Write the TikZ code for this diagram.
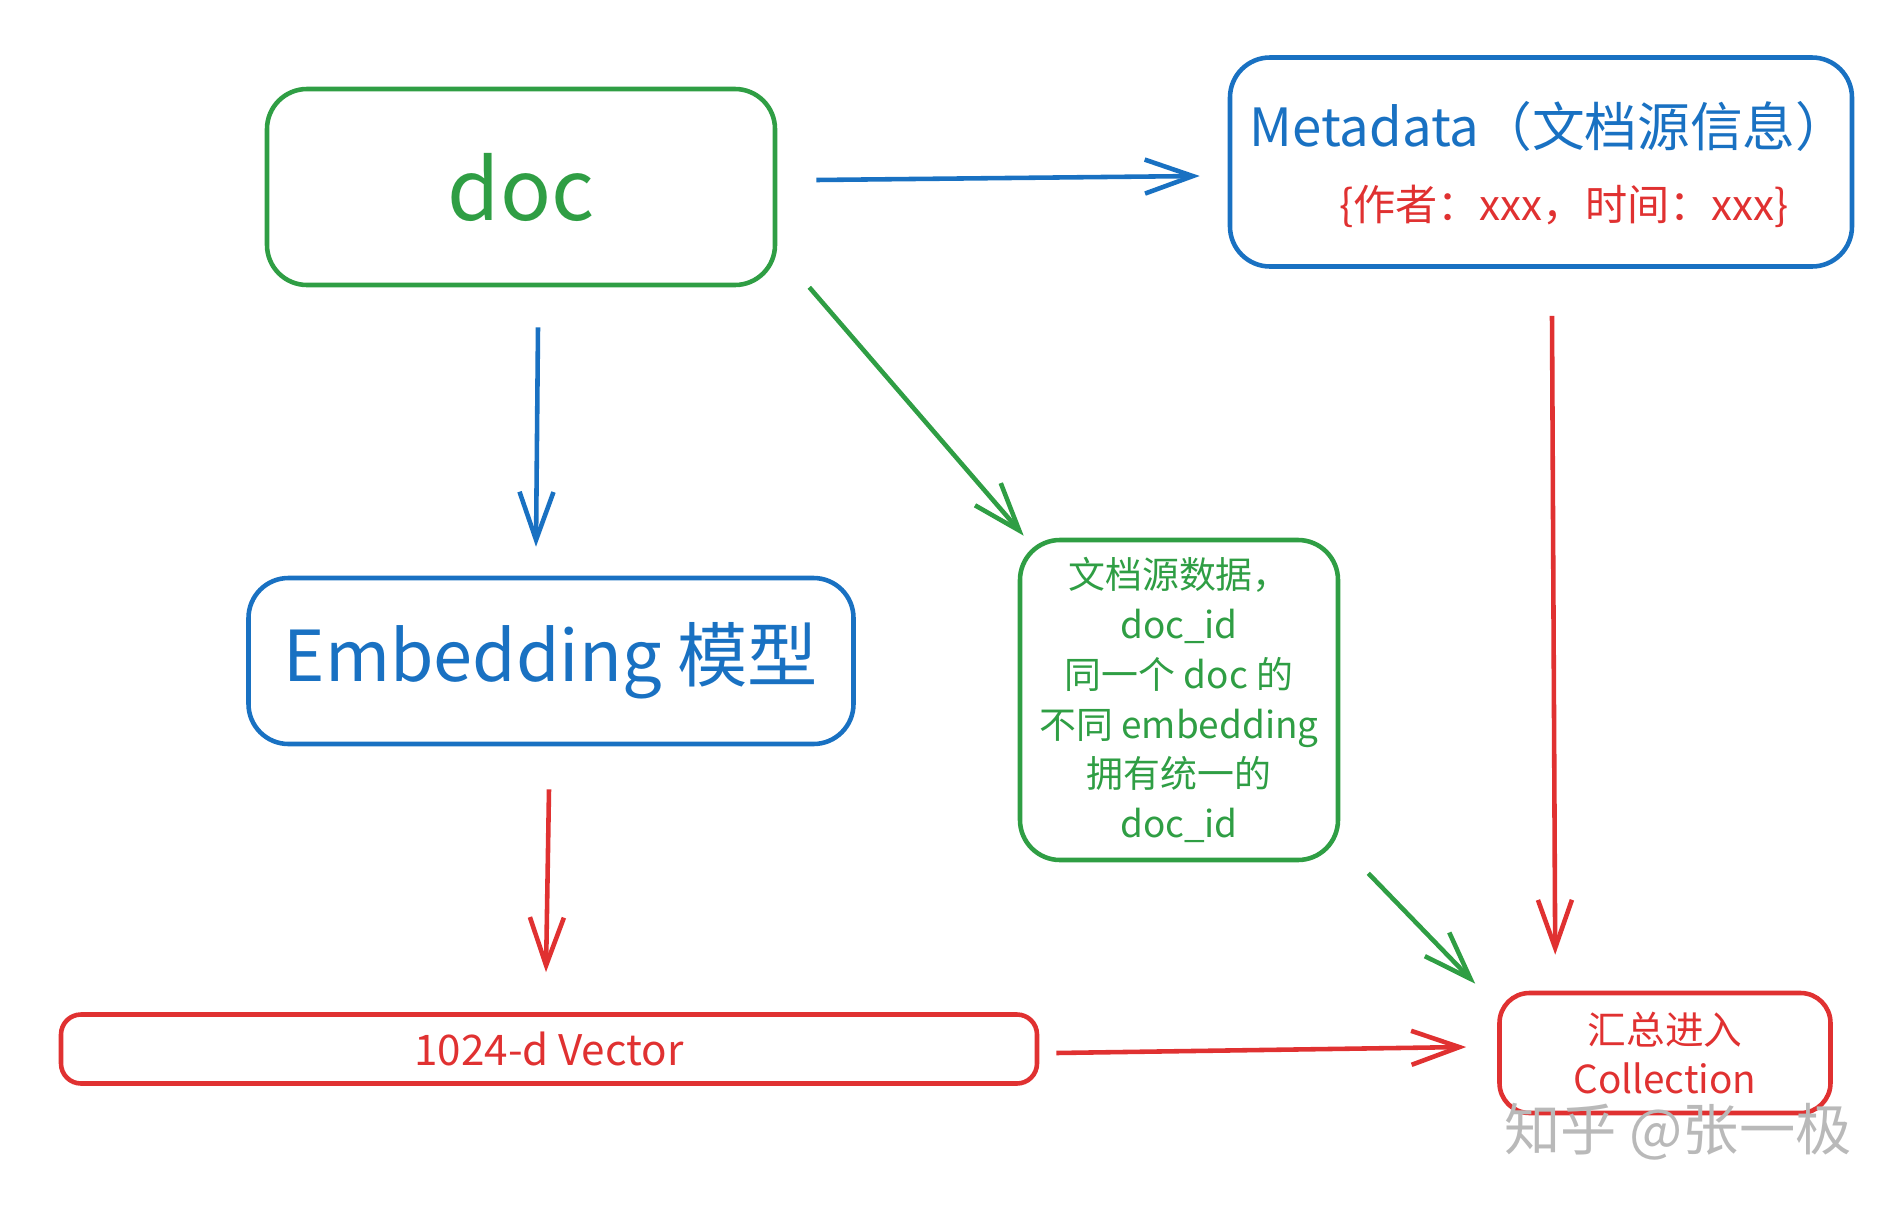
\documentclass[tikz,border=0pt]{standalone}
\usepackage{fontspec}
\setmainfont{Noto Sans CJK SC}
\usetikzlibrary{arrows.meta,positioning}
\definecolor{sketchblue}{RGB}{25,113,194}
\definecolor{sketchgreen}{RGB}{47,158,68}
\definecolor{sketchred}{RGB}{224,49,49}

\begin{document}
\begin{tikzpicture}[x=1cm,y=1cm]
\tikzset{
  boxnode/.style={draw,rounded corners=4mm,line width=1.3pt,align=center,inner sep=0pt},
  flow/.style={-{Straight Barb[length=4.8mm,width=3.4mm,line width=1.3pt]},line width=1.3pt}
}
\useasboundingbox (0,0) rectangle (19.04,12.08);
\node[boxnode,sketchgreen,minimum width=5.08cm,minimum height=1.96cm,font=\fontsize{24}{28}\selectfont] (n_doc) at (5.21,10.21) {doc};
\node[boxnode,sketchblue,minimum width=6.22cm,minimum height=2.09cm] (n_meta) at (15.41,10.46) {};
\node[sketchblue,font=\fontsize{15}{18}\selectfont] (n_metatitle) at (15.49,10.82) {Metadata（文档源信息）};
\node[sketchred,font=\fontsize{12}{14}\selectfont] (n_metainfo) at (15.64,10.02) {\{作者：xxx，时间：xxx\}};
\node[boxnode,sketchblue,minimum width=6.05cm,minimum height=1.66cm,font=\fontsize{20}{24}\selectfont] (n_emb) at (5.51,5.47) {Embedding 模型};
\node[boxnode,sketchgreen,minimum width=3.18cm,minimum height=3.20cm,font=\fontsize{10.5}{14.2}\selectfont] (n_src) at (11.79,5.08)
  {文档源数据，\\doc\_id\\同一个 doc 的\\不同 embedding\\拥有统一的\\doc\_id};
\node[boxnode,sketchred,rounded corners=2mm,minimum width=9.76cm,minimum height=0.69cm,font=\fontsize{12}{14}\selectfont] (n_vec) at (5.49,1.59) {1024-d Vector};
\node[boxnode,sketchred,rounded corners=3mm,minimum width=3.31cm,minimum height=1.20cm,font=\fontsize{11}{14.2}\selectfont] (n_coll) at (16.65,1.55) {汇总进入\\Collection};
\node[gray!55,font=\fontsize{16}{18}\selectfont] (n_mark) at (16.78,0.76) {知乎 @张一极};
% arrows
\draw[flow,sketchblue] ([shift={(0.39,0.07)}]n_doc.east) -- ([shift={(-0.28,-0.14)}]n_meta.west);
\draw[flow,sketchblue] ([shift={(0.17,-0.40)}]n_doc.south) -- ([shift={(-0.15,0.29)}]n_emb.north);
\draw[flow,sketchgreen] ([shift={(0.32,0)}]n_doc.south east) -- ([shift={(0.06,0.02)}]n_src.north west);
\draw[flow,sketchred] ([shift={(0.11,-0.47)}]n_meta.south) -- ([shift={(0.58,0.36)}]n_coll.north west);
\draw[flow,sketchred] ([shift={(-0.02,-0.43)}]n_emb.south) -- ([shift={(-0.03,0.40)}]n_vec.north);
\draw[flow,sketchred] ([shift={(0.17,-0.04)}]n_vec.east) -- ([shift={(-0.31,0.06)}]n_coll.west);
\draw[flow,sketchgreen] ([shift={(0.28,-0.11)}]n_src.south east) -- ([shift={(-0.22,0.07)}]n_coll.north west);
\end{tikzpicture}
\end{document}
